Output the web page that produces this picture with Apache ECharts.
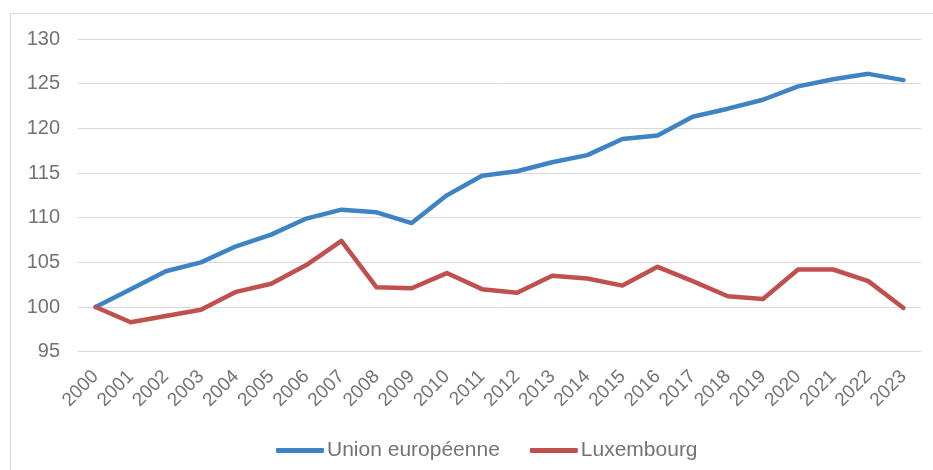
<!DOCTYPE html>
<html>
<head>
<meta charset="utf-8">
<script src="https://cdn.jsdelivr.net/npm/echarts@6/dist/echarts.min.js"></script>
<style>html,body{margin:0;padding:0;background:#fff;}#c{width:933px;height:470px;}</style>
</head>
<body>
<div id="c"></div>
<script>
const years = ['2000','2001','2002','2003','2004','2005','2006','2007','2008','2009','2010','2011','2012','2013','2014','2015','2016','2017','2018','2019','2020','2021','2022','2023'];
const ueValues = [100, 102.0, 104.0, 105.0, 106.8, 108.1, 109.9, 110.9, 110.6, 109.4, 112.5, 114.7, 115.2, 116.2, 117.0, 118.8, 119.2, 121.3, 122.2, 123.2, 124.7, 125.5, 126.1, 125.4];
const luxValues = [100, 98.3, 99.0, 99.7, 101.7, 102.6, 104.7, 107.4, 102.2, 102.1, 103.8, 102.0, 101.6, 103.5, 103.2, 102.4, 104.5, 102.9, 101.2, 100.9, 104.2, 104.2, 102.9, 99.9];
const seriesNames = ['Union européenne', 'Luxembourg'];

const chart = echarts.init(document.getElementById('c'), null, {renderer: 'canvas'});
const font = 'Liberation Sans, Arial, sans-serif';
const grey = '#737373';
chart.setOption({
  animation: false,
  backgroundColor: '#ffffff',
  graphic: [{
    type: 'rect',
    shape: {x: 10.5, y: 13.5, width: 940, height: 480},
    style: {fill: 'none', stroke: '#d9d9d9', lineWidth: 1},
    silent: true
  }],
  grid: {left: 78, right: 12, top: 39, bottom: 118.3, containLabel: false},
  legend: {
    top: 435,
    left: 271,
    itemWidth: 48,
    itemHeight: 5,
    itemGap: 30,
    icon: 'roundRect',
    textStyle: {fontFamily: font, fontSize: 21, color: grey, padding: [0, 0, 0, -2]},
    data: seriesNames
  },
  xAxis: {
    type: 'category',
    data: years,
    boundaryGap: true,
    axisLine: {show: false},
    axisTick: {show: false},
    axisLabel: {rotate: 45, margin: 22, fontFamily: font, fontSize: 19, color: grey, interval: 0}
  },
  yAxis: {
    type: 'value',
    min: 95,
    max: 130,
    interval: 5,
    axisLine: {show: false},
    axisTick: {show: false},
    axisLabel: {margin: 18, fontFamily: font, fontSize: 20, color: grey},
    splitLine: {lineStyle: {color: '#d9d9d9', width: 1}}
  },
  series: [
    {
      name: seriesNames[0], type: 'line', data: ueValues, showSymbol: false, symbol: 'none',
      lineStyle: {color: '#3e84c5', width: 4.5, cap: 'round', join: 'round'},
      itemStyle: {color: '#3e84c5'}
    },
    {
      name: seriesNames[1], type: 'line', data: luxValues, showSymbol: false, symbol: 'none',
      lineStyle: {color: '#c0504d', width: 4.5, cap: 'round', join: 'round'},
      itemStyle: {color: '#c0504d'}
    }
  ]
});
</script>
</body>
</html>
